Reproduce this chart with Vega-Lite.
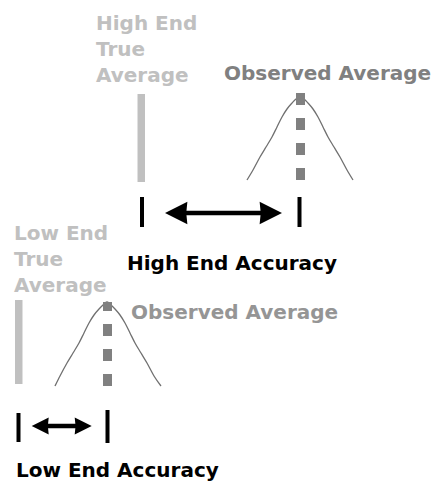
{
  "$schema": "https://vega.github.io/schema/vega-lite/v6.json",
  "width": 436,
  "height": 483,
  "autosize": {"type": "fit", "contains": "padding"},
  "padding": 0,
  "background": "white",
  "config": {"view": {"stroke": null}},
  "datasets": {
    "bars": [
      {"end": "high", "x": 137.5, "x2": 145, "y": 94, "y2": 182},
      {"end": "low", "x": 15, "x2": 22.5, "y": 300, "y2": 384}
    ],
    "curves": [
      {"curve": "high", "x": 247, "y": 180}, {"curve": "high", "x": 253, "y": 170}, {"curve": "high", "x": 260, "y": 157},
      {"curve": "high", "x": 266, "y": 147}, {"curve": "high", "x": 272, "y": 137}, {"curve": "high", "x": 277, "y": 127},
      {"curve": "high", "x": 282, "y": 117}, {"curve": "high", "x": 287, "y": 109}, {"curve": "high", "x": 292, "y": 103},
      {"curve": "high", "x": 296, "y": 99}, {"curve": "high", "x": 300, "y": 97}, {"curve": "high", "x": 304, "y": 99},
      {"curve": "high", "x": 308, "y": 103}, {"curve": "high", "x": 313, "y": 109}, {"curve": "high", "x": 318, "y": 117},
      {"curve": "high", "x": 323, "y": 127}, {"curve": "high", "x": 328, "y": 137}, {"curve": "high", "x": 334, "y": 147},
      {"curve": "high", "x": 340, "y": 157}, {"curve": "high", "x": 347, "y": 170}, {"curve": "high", "x": 353, "y": 180},
      {"curve": "low", "x": 55, "y": 386}, {"curve": "low", "x": 60, "y": 376}, {"curve": "low", "x": 67, "y": 363},
      {"curve": "low", "x": 73, "y": 353}, {"curve": "low", "x": 79, "y": 343}, {"curve": "low", "x": 84, "y": 333},
      {"curve": "low", "x": 89, "y": 323}, {"curve": "low", "x": 94, "y": 315}, {"curve": "low", "x": 99, "y": 309},
      {"curve": "low", "x": 103, "y": 305}, {"curve": "low", "x": 107, "y": 302}, {"curve": "low", "x": 111, "y": 305},
      {"curve": "low", "x": 115, "y": 309}, {"curve": "low", "x": 120, "y": 315}, {"curve": "low", "x": 125, "y": 323},
      {"curve": "low", "x": 130, "y": 333}, {"curve": "low", "x": 135, "y": 343}, {"curve": "low", "x": 141, "y": 353},
      {"curve": "low", "x": 147, "y": 363}, {"curve": "low", "x": 154, "y": 376}, {"curve": "low", "x": 161, "y": 386}
    ],
    "dashes": [
      {"end": "high", "x": 300.5, "y": 180, "y2": 93},
      {"end": "low", "x": 107.5, "y": 386, "y2": 302}
    ],
    "ticks": [
      {"end": "high", "x": 142, "y": 197, "y2": 227},
      {"end": "high", "x": 299.5, "y": 197, "y2": 227},
      {"end": "low", "x": 18.5, "y": 413, "y2": 442},
      {"end": "low", "x": 107.5, "y": 410, "y2": 443}
    ],
    "shafts": [
      {"arrow": "high", "x": 180, "x2": 267, "y": 213},
      {"arrow": "low", "x": 44, "x2": 79, "y": 426}
    ],
    "heads": [
      {"arrow": "high", "dir": "left", "x": 176.2, "y": 213},
      {"arrow": "high", "dir": "right", "x": 270.8, "y": 213},
      {"arrow": "low", "dir": "left", "x": 40.2, "y": 426},
      {"arrow": "low", "dir": "right", "x": 83.2, "y": 426}
    ],
    "labels": [
      {"label": "High End\nTrue\nAverage", "kind": "true", "x": 96, "y": 30},
      {"label": "Observed Average", "kind": "observedHigh", "x": 224, "y": 80},
      {"label": "High End Accuracy", "kind": "accuracy", "x": 127, "y": 270},
      {"label": "Low End\nTrue\nAverage", "kind": "true", "x": 14, "y": 240},
      {"label": "Observed Average", "kind": "observedLow", "x": 131, "y": 319},
      {"label": "Low End Accuracy", "kind": "accuracy", "x": 16, "y": 477}
    ]
  },
  "encoding": {
    "x": {"field": "x", "type": "quantitative", "scale": {"domain": [0, 436], "nice": false, "zero": false}, "axis": null},
    "y": {"field": "y", "type": "quantitative", "scale": {"domain": [0, 483], "reverse": true, "nice": false, "zero": false}, "axis": null}
  },
  "layer": [
    {
      "data": {"name": "bars"},
      "mark": {"type": "rect", "color": "#c0c0c0"},
      "encoding": {"x2": {"field": "x2"}, "y2": {"field": "y2"}}
    },
    {
      "data": {"name": "curves"},
      "mark": {"type": "line", "color": "#707070", "strokeWidth": 1.3, "interpolate": "monotone"},
      "encoding": {"detail": {"field": "curve"}}
    },
    {
      "data": {"name": "dashes"},
      "mark": {"type": "rule", "color": "#808080", "strokeWidth": 9, "strokeDash": [12, 13], "strokeCap": "butt"},
      "encoding": {"y2": {"field": "y2"}}
    },
    {
      "data": {"name": "ticks"},
      "mark": {"type": "rule", "color": "black", "strokeWidth": 4, "strokeCap": "butt"},
      "encoding": {"y2": {"field": "y2"}}
    },
    {
      "data": {"name": "shafts"},
      "mark": {"type": "rule", "color": "black", "strokeWidth": 4.5, "strokeCap": "butt"},
      "encoding": {"x2": {"field": "x2"}}
    },
    {
      "data": {"name": "heads"},
      "mark": {"type": "point", "filled": true, "color": "black", "opacity": 1, "strokeWidth": 0},
      "encoding": {
        "shape": {"field": "dir", "type": "nominal", "scale": {"domain": ["left", "right"], "range": ["M-1,0L1,-1L0.9,0L1,1Z", "M1,0L-1,-1L-0.9,0L-1,1Z"]}, "legend": null},
        "size": {"field": "arrow", "type": "nominal", "scale": {"domain": ["high", "low"], "range": [500, 289]}, "legend": null}
      }
    },
    {
      "data": {"name": "labels"},
      "mark": {"type": "text", "align": "left", "baseline": "alphabetic", "lineBreak": "\n", "lineHeight": 26, "font": "DejaVu Sans", "fontWeight": "bold", "fontSize": 20},
      "encoding": {
        "text": {"field": "label"},
        "color": {"field": "kind", "type": "nominal", "scale": {"domain": ["true", "observedHigh", "observedLow", "accuracy"], "range": ["#c0c0c0", "#808080", "#959595", "#000000"]}, "legend": null}
      }
    }
  ]
}
